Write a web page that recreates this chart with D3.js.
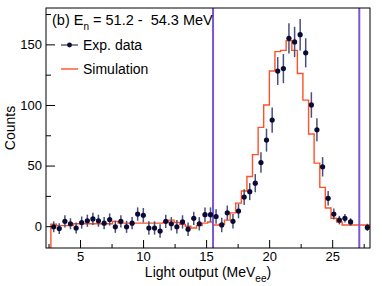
<!DOCTYPE html>
<html>
<head>
<meta charset="utf-8">
<script src="https://cdn.jsdelivr.net/npm/d3@7"></script>
<style>
  body { margin: 0; background: #fff; }
  text { font-family: "Liberation Sans", Arial, sans-serif; fill: #000; }
</style>
</head>
<body>
<script>
// bin centres (light output, MeVee), bin width ~0.444
var lightOutput = [2.91, 3.35, 3.80, 4.24, 4.69, 5.13, 5.58, 6.02, 6.46, 6.91,
  7.35, 7.80, 8.24, 8.69, 9.13, 9.57, 10.02, 10.46, 10.91, 11.35,
  11.80, 12.24, 12.68, 13.13, 13.57, 14.02, 14.46, 14.91, 15.35, 15.79,
  16.24, 16.68, 17.13, 17.57, 18.02, 18.46, 18.90, 19.35, 19.79, 20.24,
  20.68, 21.13, 21.57, 22.02, 22.46, 22.90, 23.35, 23.79, 24.24, 24.68,
  25.13, 25.57, 26.01, 26.46, 26.90, 27.35, 27.79];
var binWidth = 0.444;

// measured counts (null = empty bin, not drawn)
var expCounts = [-0.5, -2, 4, 2, -1.5, 3, 4.5, 6, 4.5, 2.5,
  5.5, -0.5, 4, -0.5, 2.5, 10, 9, -1.5, -1.5, -4,
  4, 2, -0.5, 3.5, -2.5, 6.5, 2, 9.5, 9.5, 8,
  1, 11, 4, 12.5, 24, 28.5, 35.5, 52.5, 71, 87.5,
  128, 130, 155, 152, 158, 143, 100, 79.5, 49, 23,
  10, 5, 6.5, 3.5, null, null, -1];
var expErrors = [4.5, 4.5, 5, 4.5, 4.5, 5, 5, 5, 5, 5,
  5, 5, 5, 5, 5, 5.5, 6, 5.5, 5.5, 5.5,
  5.5, 5.5, 5.5, 5.5, 5.5, 5.5, 5.5, 6, 6, 6,
  6, 6, 6, 6, 6.5, 7, 7.5, 8.5, 9.5, 10.5,
  11.5, 12, 12.5, 12.5, 13, 12, 10.5, 9.5, 8, 6,
  4.5, 3.5, 3.5, 3, 0, 0, 3];

// simulated spectrum
var simCounts = [1.7, 1.7, 0.5, 0.5, 0.5, 2, 2, 2, 2, 2,
  2, 2, 4, 2.5, 2.5, 2.5, 2.5, 2.5, 2.5, 2.5,
  2.5, 3, 5, 3, 1.5, 0, -1.5, 0.5, 2.5, 3.5,
  1, 1.5, 5, 11, 19, 29, 41, 59, 81.5, 100,
  128, 144, 145, 153, 145, 126, 104, 76, 52, 32,
  15, 6.5, 3.5, 1, 1, 1, 1];

var cutLines = [15.55, 27.15];
var xTicks = [5, 10, 15, 20, 25];
var xMinor = [2.5, 7.5, 12.5, 17.5, 22.5, 27.5];
var yTicks = [0, 50, 100, 150];
var yMinor = [25, 75, 125, 175];

var W = 382, H = 286;
var mLeft = 46, mRight = 370, mTop = 8, mBottom = 248;

var svg = d3.select("body").append("svg")
  .attr("width", W)
  .attr("height", H);

var x = d3.scaleLinear().domain([2.3, 28]).range([mLeft, mRight]);
var y = d3.scaleLinear().domain([-18, 180]).range([mBottom, mTop]);

svg.append("clipPath").attr("id", "frame")
  .append("rect")
  .attr("x", mLeft).attr("y", mTop)
  .attr("width", mRight - mLeft).attr("height", mBottom - mTop);

var plot = svg.append("g").attr("clip-path", "url(#frame)");

// simulation step histogram
var edges = lightOutput.map(function(c) { return c - binWidth / 2; });
var steps = [[edges[0], y.domain()[0]]];
lightOutput.forEach(function(c, i) { steps.push([edges[i], simCounts[i]]); });
steps.push([lightOutput[lightOutput.length - 1] + binWidth / 2, simCounts[simCounts.length - 1]]);

var stepLine = d3.line()
  .x(function(d) { return x(d[0]); })
  .y(function(d) { return y(d[1]); })
  .curve(d3.curveStepBefore);

plot.append("path")
  .datum(steps)
  .attr("d", stepLine)
  .attr("fill", "none")
  .attr("stroke", "#ff5128")
  .attr("stroke-width", 1.4);

// cut lines
plot.selectAll(".cut")
  .data(cutLines)
  .enter().append("line")
  .attr("class", "cut")
  .attr("x1", function(d) { return x(d); })
  .attr("x2", function(d) { return x(d); })
  .attr("y1", mTop).attr("y2", mBottom)
  .attr("stroke", "#7b55d4")
  .attr("stroke-width", 2);

// data points
var pts = lightOutput.map(function(c, i) {
  return { x: c, y: expCounts[i], e: expErrors[i] };
}).filter(function(d) { return d.y !== null; });

plot.selectAll(".err")
  .data(pts)
  .enter().append("line")
  .attr("class", "err")
  .attr("x1", function(d) { return x(d.x); })
  .attr("x2", function(d) { return x(d.x); })
  .attr("y1", function(d) { return y(d.y - d.e); })
  .attr("y2", function(d) { return y(d.y + d.e); })
  .attr("stroke", "#4a5078")
  .attr("stroke-width", 1.5);

plot.selectAll(".dot")
  .data(pts)
  .enter().append("circle")
  .attr("class", "dot")
  .attr("cx", function(d) { return x(d.x); })
  .attr("cy", function(d) { return y(d.y); })
  .attr("r", 2.6)
  .attr("fill", "#0a0a35");

// frame
svg.append("rect")
  .attr("x", mLeft).attr("y", mTop)
  .attr("width", mRight - mLeft).attr("height", mBottom - mTop)
  .attr("fill", "none")
  .attr("stroke", "#000")
  .attr("stroke-width", 1);

// axes, ticks inward
svg.append("g")
  .attr("transform", "translate(0," + mBottom + ")")
  .call(d3.axisBottom(x).tickValues(xTicks).tickSize(-8).tickPadding(4).tickFormat(d3.format("d")));
svg.append("g")
  .attr("transform", "translate(0," + mBottom + ")")
  .call(d3.axisBottom(x).tickValues(xMinor).tickSize(-4).tickFormat(""));

svg.append("g")
  .attr("transform", "translate(" + mLeft + ",0)")
  .call(d3.axisLeft(y).tickValues(yTicks).tickSize(-9).tickPadding(4).tickFormat(d3.format("d")));
svg.append("g")
  .attr("transform", "translate(" + mLeft + ",0)")
  .call(d3.axisLeft(y).tickValues(yMinor).tickSize(-5).tickFormat(""));

svg.selectAll(".domain").remove();
svg.selectAll(".tick line").attr("stroke", "#000");
svg.selectAll(".tick text")
  .style("font-family", "'Liberation Sans', Arial, sans-serif")
  .style("font-size", "13px")
  .attr("fill", "#000");

// axis titles
var xt = svg.append("text")
  .attr("x", (mLeft + mRight) / 2)
  .attr("y", 277)
  .attr("text-anchor", "middle")
  .style("font-size", "14px");
xt.append("tspan").text("Light output (MeV");
xt.append("tspan").attr("dy", 5).style("font-size", "10px").text("ee");
xt.append("tspan").attr("dy", -5).text(")");

svg.append("text")
  .attr("transform", "translate(15," + (mTop + mBottom) / 2 + ") rotate(-90)")
  .attr("text-anchor", "middle")
  .style("font-size", "14px")
  .text("Counts");

// panel label
var tl = svg.append("text")
  .attr("x", 52).attr("y", 25)
  .style("font-size", "14.5px")
  .style("white-space", "pre");
tl.append("tspan").text("(b) E");
tl.append("tspan").attr("dy", 5).style("font-size", "10px").text("n");
tl.append("tspan").attr("dy", -5).text(" = 51.2 -  54.3 MeV");

// legend
var lg = svg.append("g");
lg.append("line")
  .attr("x1", 61).attr("x2", 78).attr("y1", 45).attr("y2", 45)
  .attr("stroke", "#0a0a35").attr("stroke-width", 1);
lg.append("circle")
  .attr("cx", 69.5).attr("cy", 45).attr("r", 2.4)
  .attr("fill", "#0a0a35");
lg.append("text")
  .attr("x", 83).attr("y", 50)
  .style("font-size", "14px")
  .text("Exp. data");
lg.append("line")
  .attr("x1", 61).attr("x2", 78).attr("y1", 69).attr("y2", 69)
  .attr("stroke", "#ff5128").attr("stroke-width", 1.4);
lg.append("text")
  .attr("x", 83).attr("y", 74)
  .style("font-size", "14px")
  .text("Simulation");
</script>
</body>
</html>
